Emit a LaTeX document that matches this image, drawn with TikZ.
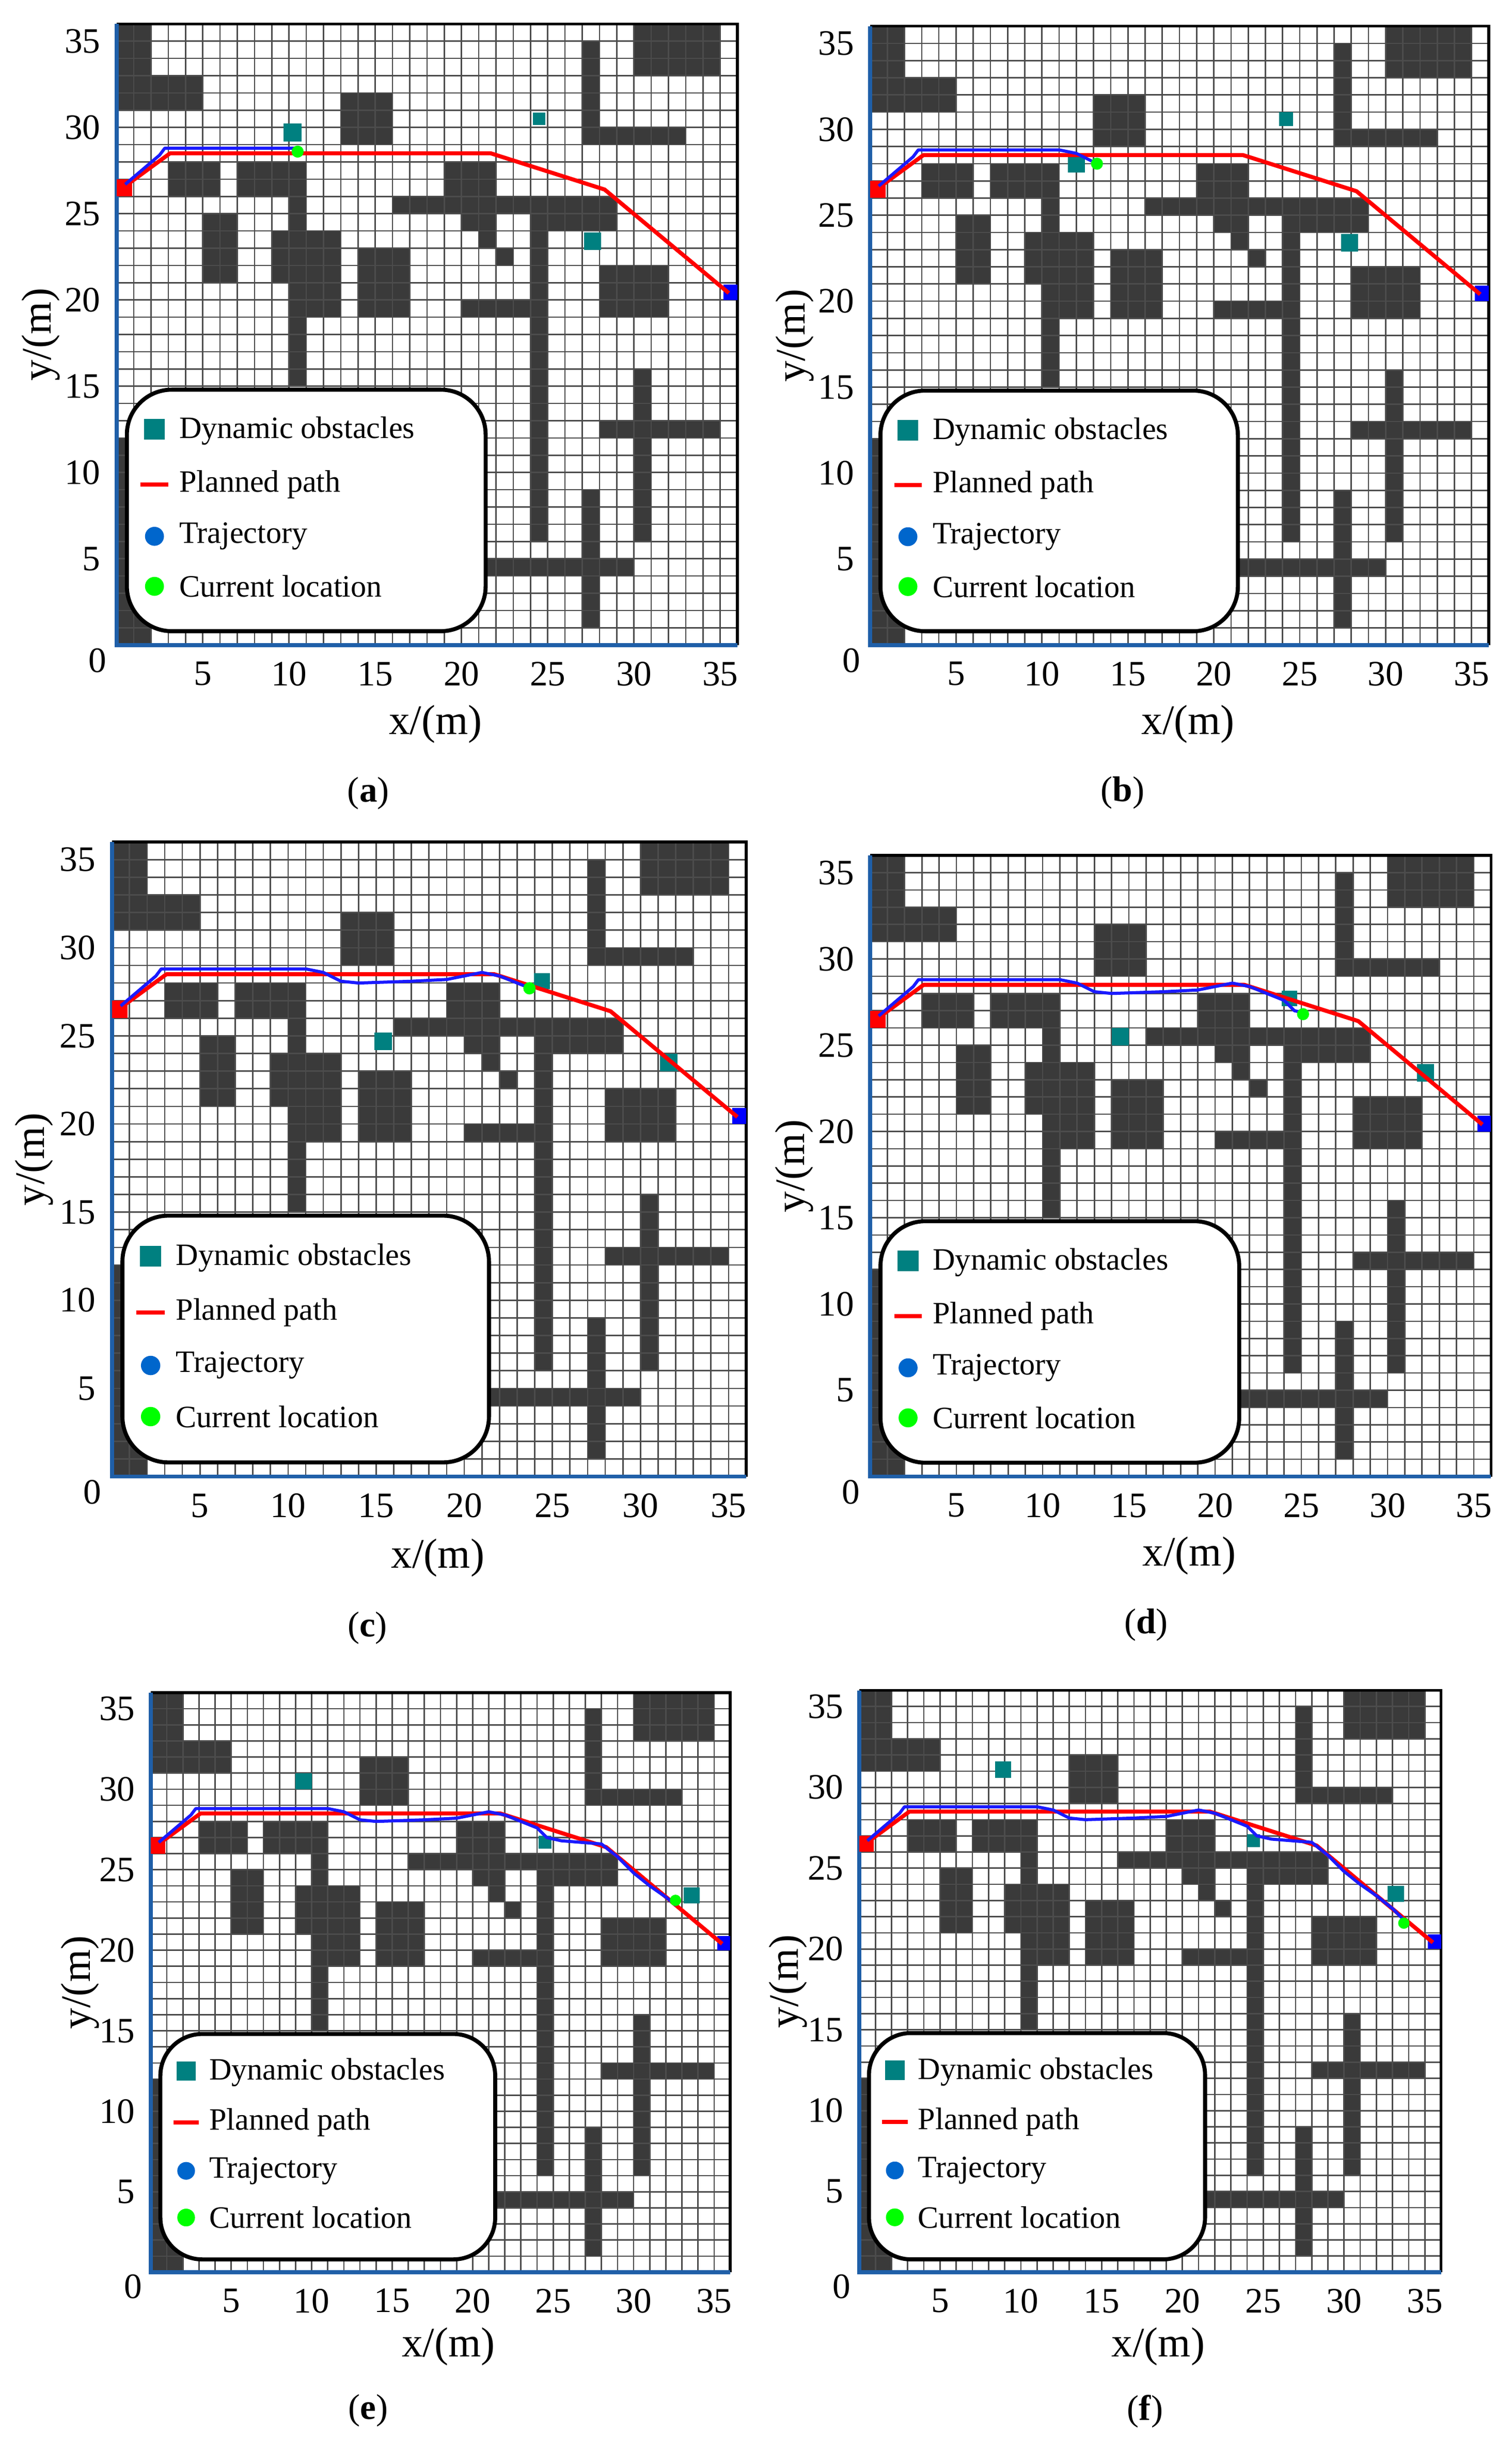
\documentclass[tikz,border=0pt]{standalone}
\usepackage{fontspec}
\setmainfont{Liberation Serif}
\definecolor{obst}{HTML}{3A3A3A}
\definecolor{dyn}{HTML}{008080}
\definecolor{axblue}{HTML}{1F5FA8}
\definecolor{trajc}{HTML}{1A1AFF}
\definecolor{legblue}{HTML}{0066CC}
\tikzset{
  gridl/.style={black!70,line width=0.45pt},
  plan/.style={red,line width=1.3pt,line join=round},
  traj/.style={trajc,line width=1pt,line join=round},
  tick/.style={font=\fontsize{11.5}{12}\selectfont},
  legtext/.style={anchor=west,font=\fontsize{10}{11}\selectfont,inner sep=0pt},
}
\newcommand\obstacles{%
  \fill[obst] (0,31) rectangle (2,36) (0,31) rectangle (5,33)
   (13,29) rectangle (16,32) (27,29) rectangle (28,35) (27,29) rectangle (33,30)
   (30,33) rectangle (35,36) (3,26) rectangle (6,28) (7,26) rectangle (11,28)
   (10,15) rectangle (11,28) (5,21) rectangle (7,25) (9,21) rectangle (13,24)
   (10,19) rectangle (13,24) (14,19) rectangle (17,23) (19,26) rectangle (22,28)
   (16,25) rectangle (29,26) (20,24) rectangle (22,25) (21,23) rectangle (22,24)
   (24,24) rectangle (29,25) (24,6) rectangle (25,26) (22,22) rectangle (23,23)
   (20,19) rectangle (24,20) (28,19) rectangle (32,22) (30,6) rectangle (31,16)
   (28,12) rectangle (35,13) (27,1) rectangle (28,9) (20,4) rectangle (30,5)
   (0,0) rectangle (1,12) (1,0) rectangle (2,2);}
\newcommand\dob[3]{\fill[dyn] (#1-#3/2,#2-#3/2) rectangle ++(#3,#3);}
\newcommand\mappanel[8]{%
\begin{scope}[shift={(#1*0.5pt,-#2*0.5pt)},x=#3,y=#3]
  \fill[white] (0,0) rectangle (36,36);
  \obstacles
  \draw[gridl,step=1] (0,0) grid (36,36);
  \draw[black,line width=0.9pt] (0,36) -- (36,36) -- (36,0);
  \draw[axblue,line width=1.3pt] (0,36) -- (0,0) -- (36,0);
  \foreach \k in {5,10,...,35}{
    \node[tick,anchor=north] (#5x\k) at (\k,-0.35) {\k};
    \node[tick,anchor=east] (#5y\k) at (-0.3,\k) {\k};}
  \node[tick] (#5zero) at (-1.1,-0.9) {0};
  \node[font=\fontsize{13.5}{14}\selectfont] (#5xl) at (18.5,-4.6) {x/(m)};
  \node[font=\fontsize{13.5}{14}\selectfont,rotate=90] (#5yl) at (-4.4,18) {y/(m)};
  \node[font=\fontsize{11.5}{12}\selectfont] (#5cap) at (#4,-8.6) {(\textbf{#5})};
  #6
  \fill[red] (0,26) rectangle (0.9,27);
  \fill[blue] (35.2,20) rectangle (36,20.9);
  \draw[plan] (0.5,26.6) -- (3.1,28.5) -- (21.7,28.5) -- (28.3,26.4) -- (35.5,20.4);
  \begin{scope}
    \clip (-1,-1) rectangle (#7,37);
    \draw[traj] plot coordinates {(0.5,26.7) (2.5,28.4) (2.8,28.8) (11,28.8) (12,28.6) (13,28.1) (14,28.0) (17,28.1) (19,28.2) (21,28.6) (22,28.4) (23,28.0) (24,27.6) (24.6,27.0) (25.5,26.8) (28,26.6) (29,25.8) (30,24.8) (31,24) (32,23.3) (33,22.5) (34,21.5) (35.4,20.5)};
  \end{scope}
  \fill[green] (#7,#8) circle (0.35);
  \draw[line width=1.3pt,fill=white,rounded corners=2.6*#3] (0.6,0.8) rectangle (21.4,14.8);
  \fill[dyn] (1.6,11.9) rectangle (2.8,13.1);
  \draw[red,line width=1.4pt] (1.4,9.3) -- (3,9.3);
  \fill[legblue] (2.2,6.3) circle (0.55);
  \fill[green] (2.2,3.4) circle (0.55);
  \node[legtext] (#5l1) at (3.6,12.4) {Dynamic obstacles};
  \node[legtext] (#5l2) at (3.6,9.3) {Planned path};
  \node[legtext] (#5l3) at (3.6,6.3) {Trajectory};
  \node[legtext] (#5l4) at (3.6,3.4) {Current location};
\end{scope}}
\begin{document}
\begin{tikzpicture}
\useasboundingbox (0,0) rectangle (486.5pt,-784pt);
\mappanel{75}{415}{5.55pt}{14.6}{a}{\dob{10.2}{29.7}{1.05}\dob{24.5}{30.5}{0.7}\dob{27.6}{23.4}{1.0}}{10.5}{28.6}
\mappanel{560}{415}{5.53pt}{14.7}{b}{\dob{12}{28}{1.0}\dob{24.2}{30.6}{0.8}\dob{27.9}{23.4}{1.0}}{13.2}{28.0}
\mappanel{72}{950}{5.67pt}{14.5}{c}{\dob{24.4}{28.1}{0.9}\dob{15.4}{24.7}{1.0}\dob{31.6}{23.5}{1.0}}{23.7}{27.7}
\mappanel{560}{950}{5.55pt}{16}{d}{\dob{14.5}{25.5}{1.0}\dob{24.3}{27.7}{0.9}\dob{32.2}{23.4}{1.0}}{25.1}{26.8}
\mappanel{97}{1462}{5.18pt}{13.5}{e}{\dob{9.5}{30.5}{1.0}\dob{24.5}{26.7}{0.8}\dob{33.6}{23.4}{1.0}}{32.6}{23.1}
\mappanel{553}{1462}{5.2pt}{17.7}{f}{\dob{8.9}{31.1}{1.0}\dob{24.4}{26.7}{0.8}\dob{33.2}{23.4}{1.0}}{33.7}{21.6}
\end{tikzpicture}
\end{document}
